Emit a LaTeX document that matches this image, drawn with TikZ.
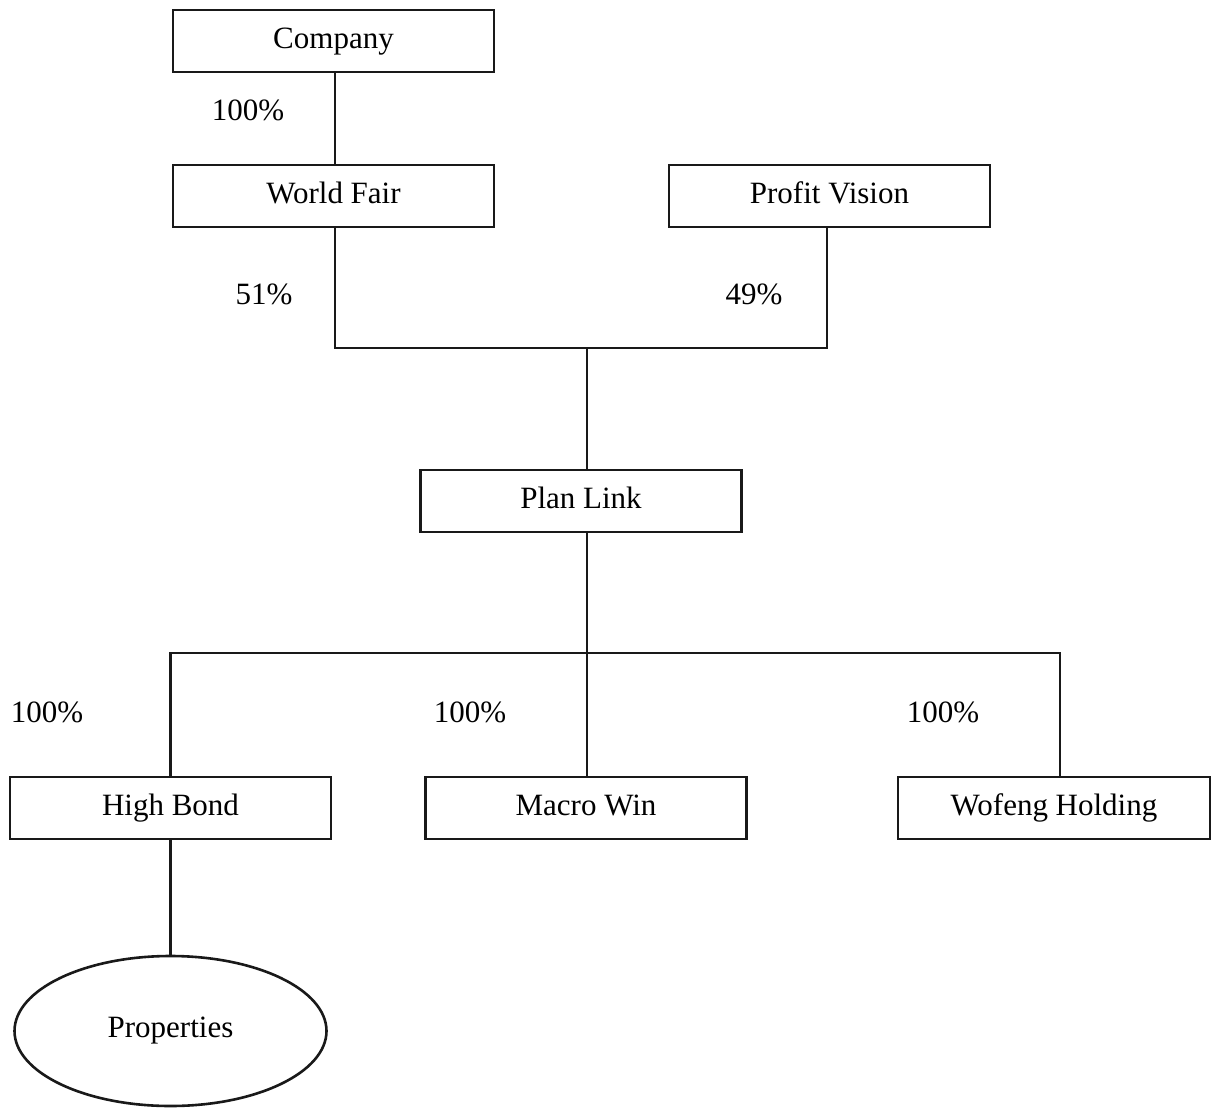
\documentclass[tikz,border=0pt]{standalone}
\usepackage{fontspec}
\setmainfont{Liberation Serif}
\usetikzlibrary{shapes.geometric}
\begin{document}
\begin{tikzpicture}[x=1pt,y=-1pt,
  box/.style={draw=black!90, line width=2.6pt, rectangle, minimum width=321pt, minimum height=62pt, inner sep=0pt, text height=21pt, text depth=7pt, font=\fontsize{31}{36}\selectfont},
  lbl/.style={font=\fontsize{31}{36}\selectfont, inner sep=0pt},
  conn/.style={draw=black!90, line width=2.6pt}]
\useasboundingbox (0,0) rectangle (1211,1111);
\node[box] (company) at (333.5,41) {Company};
\node[box] (world) at (333.5,196) {World Fair};
\node[box] (profit) at (829.5,196) {Profit Vision};
\node[box] (plan) at (581,501) {Plan Link};
\node[box] (high) at (170.5,808) {High Bond};
\node[box] (macro) at (586,808) {Macro Win};
\node[box, minimum width=312pt] (wofeng) at (1054,808) {Wofeng Holding};
\node[draw=black!90, line width=2.6pt, ellipse, minimum width=312pt, minimum height=150pt, inner sep=0pt, font=\fontsize{31}{36}\selectfont] (prop) at (170.5,1031) {Properties};
\coordinate (j1) at (587,348);
\coordinate (j2) at (587,653);
\draw[conn] (company.south -| 335,0) -- (world.north -| 335,0);
\draw[conn] (world.south -| 335,0) |- (j1);
\draw[conn] (profit.south -| 827,0) |- (j1);
\draw[conn] (j1) -- (plan.north -| j1);
\draw[conn] (plan.south -| j2) -- (j2);
\draw[conn] (j2) -| (high.north);
\draw[conn] (j2) -- (macro.north -| j2);
\draw[conn] (j2) -| (wofeng.north -| 1060,0);
\draw[conn] (high.south) -- (prop.north);
\node[lbl] (l1) at (248,110) {100\%};
\node[lbl] (l2) at (264,294) {51\%};
\node[lbl] (l3) at (754,294) {49\%};
\node[lbl] (l4) at (47,712) {100\%};
\node[lbl] (l5) at (470,712) {100\%};
\node[lbl] (l6) at (943,712) {100\%};
\end{tikzpicture}
\end{document}
